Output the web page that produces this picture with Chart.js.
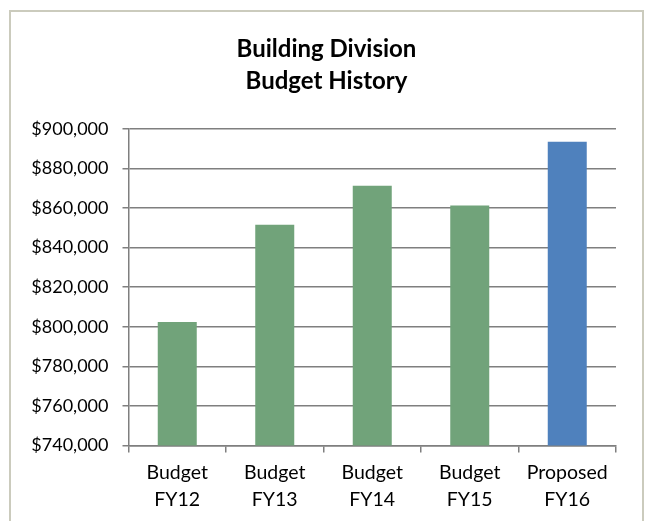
<!DOCTYPE html>
<html>
<head>
<meta charset="utf-8">
<script src="https://cdn.jsdelivr.net/npm/chart.js@4"></script>
<style>
  html, body { margin: 0; padding: 0; background: #fff; overflow: hidden; }
  #frame {
    position: absolute; left: 9px; top: 10px; width: 635px; height: 600px;
    box-sizing: border-box; border: 2px solid #cbcbbd; background: #fff;
  }
  #budgetChart { position: absolute; left: 0; top: 0; }
</style>
</head>
<body>
<div id="frame"></div>
<canvas id="budgetChart" width="645" height="521"></canvas>
<script>
var categories = [
  ['Budget', 'FY12'],
  ['Budget', 'FY13'],
  ['Budget', 'FY14'],
  ['Budget', 'FY15'],
  ['Proposed', 'FY16']
];
var budgetValues = [802400, 851600, 871200, 861300, 893500];
var barColors = ['#71a37a', '#71a37a', '#71a37a', '#71a37a', '#4f81bd'];
var yMin = 740000;
var yMax = 900000;
var yStep = 20000;

var axisGray = '#7f7f7f';
var fontFamily = 'Lato, "Noto Sans", sans-serif';

function BuildBudgetChart() {
  var ctx = document.getElementById('budgetChart');
  var budgetChart = new Chart(ctx, {
    type: 'bar',
    data: {
      labels: categories,
      datasets: [{
        label: 'Budget',
        data: budgetValues,
        backgroundColor: barColors,
        borderWidth: 0,
        barPercentage: 0.4,
        categoryPercentage: 1.0
      }]
    },
    options: {
      responsive: false,
      animation: false,
      layout: {
        padding: { left: 13, right: 5, top: 10, bottom: 0 }
      },
      plugins: {
        legend: { display: false },
        tooltip: { enabled: false },
        title: {
          display: true,
          text: ['Building Division', 'Budget History'],
          color: '#000',
          font: { family: fontFamily, size: 24, weight: 'bold', lineHeight: 1.33 },
          padding: { top: 23, bottom: 32 }
        }
      },
      scales: {
        x: {
          grid: {
            drawOnChartArea: false,
            drawTicks: true,
            tickLength: 7,
            color: axisGray,
            lineWidth: 1.5
          },
          border: { color: axisGray, width: 1.5 },
          ticks: {
            color: '#000',
            padding: 7,
            maxRotation: 0,
            font: { family: fontFamily, size: 19.5, lineHeight: 1.38 }
          },
          afterFit: function (scale) {
            scale.height = 75.5;
            // keep the plot's right edge in from the frame
            scale.paddingRight = 29;
          }
        },
        y: {
          min: yMin,
          max: yMax,
          grid: {
            color: axisGray,
            lineWidth: 1.5,
            tickLength: 6
          },
          border: { color: axisGray, width: 1.5 },
          ticks: {
            stepSize: yStep,
            color: '#000',
            padding: 14,
            font: { family: fontFamily, size: 18 },
            callback: function (value) {
              return '$' + value.toLocaleString('en-US');
            }
          },
          afterFit: function (scale) {
            scale.width = 115.5;
          }
        }
      }
    }
  });
}

BuildBudgetChart();
</script>
</body>
</html>
